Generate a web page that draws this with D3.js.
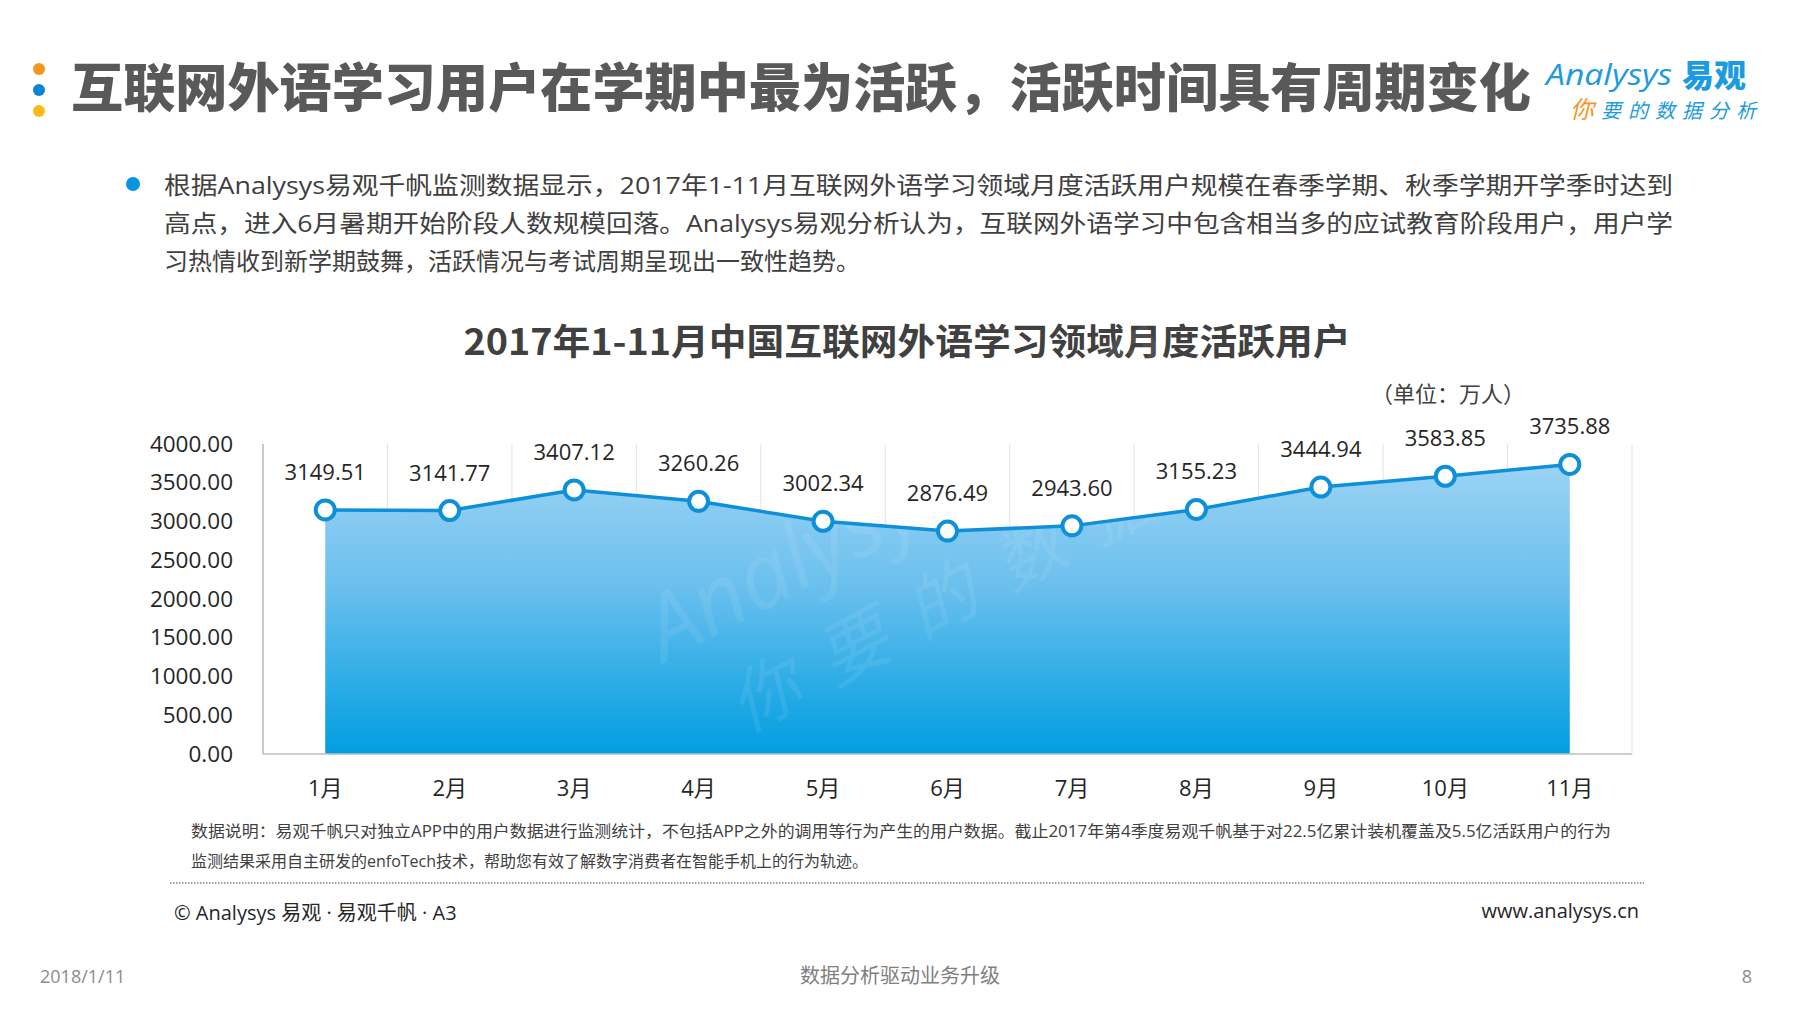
<!DOCTYPE html>
<html>
<head>
<meta charset="utf-8">
<script src="https://cdn.jsdelivr.net/npm/d3@7"></script>
<style>
html,body{margin:0;padding:0;background:#fff;}
svg{display:block;}
text{font-family:"Open Sans","Noto Sans CJK SC",sans-serif;}
</style>
</head>
<body>
<svg id="chart" width="1800" height="1013"></svg>
<script>
// ---- data ----
const months = ["1月","2月","3月","4月","5月","6月","7月","8月","9月","10月","11月"];
const activeUsers = [3149.51, 3141.77, 3407.12, 3260.26, 3002.34, 2876.49, 2943.60, 3155.23, 3444.94, 3583.85, 3735.88];
const yTicks = [0, 500, 1000, 1500, 2000, 2500, 3000, 3500, 4000];

const pageTitle = "互联网外语学习用户在学期中最为活跃，活跃时间具有周期变化";
const chartTitle = "2017年1-11月中国互联网外语学习领域月度活跃用户";
const unitLabel = "（单位：万人）";
const summaryLines = [
  "根据Analysys易观千帆监测数据显示，2017年1-11月互联网外语学习领域月度活跃用户规模在春季学期、秋季学期开学季时达到",
  "高点，进入6月暑期开始阶段人数规模回落。Analysys易观分析认为，互联网外语学习中包含相当多的应试教育阶段用户，用户学",
  "习热情收到新学期鼓舞，活跃情况与考试周期呈现出一致性趋势。"
];
const noteLines = [
  "数据说明：易观千帆只对独立APP中的用户数据进行监测统计，不包括APP之外的调用等行为产生的用户数据。截止2017年第4季度易观千帆基于对22.5亿累计装机覆盖及5.5亿活跃用户的行为",
  "监测结果采用自主研发的enfoTech技术，帮助您有效了解数字消费者在智能手机上的行为轨迹。"
];
const sourceText = "© Analysys 易观 · 易观千帆 · A3";
const siteText = "www.analysys.cn";
const footerDate = "2018/1/11";
const footerSlogan = "数据分析驱动业务升级";
const pageNumber = "8";

// ---- layout ----
const svg = d3.select("#chart");
const plot = {left: 263, right: 1632, top: 444, bottom: 754};

const x = d3.scaleBand().domain(months).range([plot.left, plot.right]).padding(0);
const y = d3.scaleLinear().domain([0, 4000]).range([plot.bottom, plot.top]);
const cx = d => x(d) + x.bandwidth() / 2;

// header dots
const dotColors = ["#f7941d", "#0a84d6", "#fbb91a"];
svg.selectAll("circle.hdot").data(dotColors).join("circle")
  .attr("cx", 39).attr("cy", (d, i) => 69 + i * 21).attr("r", 6).attr("fill", d => d);

// page title
svg.append("text").attr("x", 71).attr("y", 107)
  .attr("textLength", 1460).attr("lengthAdjust", "spacingAndGlyphs")
  .style("font-family", "'Noto Sans CJK SC',sans-serif")
  .style("font-weight", 900).style("font-size", "52px").attr("fill", "#595959")
  .text(pageTitle);

// logo
const logo = svg.append("g");
logo.append("text").attr("x", 1546).attr("y", 85)
  .style("font-family", "'Open Sans',sans-serif").style("font-style", "italic")
  .style("font-size", "29px").attr("fill", "#1d9be0").attr("textLength", 126)
  .attr("lengthAdjust", "spacingAndGlyphs")
  .text("Analysys");
logo.append("text").attr("x", 1682).attr("y", 87)
  .style("font-family", "'Noto Sans CJK SC',sans-serif").style("font-weight", 900)
  .style("font-size", "32px").attr("fill", "#1d9be0").text("易观");
const slogan = logo.append("text").attr("x", 1570).attr("y", 118)
  .style("font-family", "'Noto Sans CJK SC',sans-serif").style("font-style", "italic")
  .style("font-size", "20px").attr("fill", "#1d9be0").attr("textLength", 186);
slogan.append("tspan").attr("fill", "#f7941d").style("font-size", "24px").text("你");
slogan.append("tspan").text("要的数据分析");

// summary bullet + text
svg.append("circle").attr("cx", 133).attr("cy", 184).attr("r", 7).attr("fill", "#0a95df");
svg.selectAll("text.summary").data(summaryLines).join("text")
  .attr("class", "summary")
  .attr("x", 164).attr("y", (d, i) => 194 + i * 38)
  .attr("textLength", (d, i) => i < 2 ? 1509 : null)
  .attr("lengthAdjust", "spacingAndGlyphs")
  .style("font-size", "24px").attr("fill", "#404040")
  .text(d => d);

// chart title
svg.append("text").attr("x", 907).attr("y", 355).attr("text-anchor", "middle")
  .attr("textLength", 887).attr("lengthAdjust", "spacingAndGlyphs")
  .style("font-family", "'Noto Sans CJK SC',sans-serif")
  .style("font-weight", 700).style("font-size", "36px").attr("fill", "#404040")
  .text(chartTitle);

// unit
svg.append("text").attr("x", 1448).attr("y", 402).attr("text-anchor", "middle")
  .style("font-size", "22px").attr("fill", "#404040").text(unitLabel);

// gradient
const defs = svg.append("defs");
const grad = defs.append("linearGradient").attr("id", "areaGrad")
  .attr("gradientUnits", "userSpaceOnUse")
  .attr("x1", 0).attr("x2", 0).attr("y1", y(4000)).attr("y2", y(0));
grad.append("stop").attr("offset", "0%").attr("stop-color", "#a3d6f5");
grad.append("stop").attr("offset", "45%").attr("stop-color", "#6cc0ee");
grad.append("stop").attr("offset", "100%").attr("stop-color", "#009ee0");

// vertical grid lines at band boundaries
const bounds = months.map(m => x(m)).concat([plot.right]);
svg.selectAll("line.vgrid").data(bounds.slice(1)).join("line")
  .attr("x1", d => d).attr("x2", d => d)
  .attr("y1", plot.top).attr("y2", plot.bottom)
  .attr("stroke", "#e3e3e3").attr("stroke-width", 1);

// area
const area = d3.area().x((d, i) => cx(months[i])).y0(y(0)).y1(d => y(d));
svg.append("path").datum(activeUsers).attr("d", area).attr("fill", "url(#areaGrad)");

// watermark
const wm = svg.append("g").attr("transform", "translate(880,560) rotate(-28)").attr("opacity", 0.08);
wm.append("text").attr("x", -70).attr("y", -10).attr("text-anchor", "middle")
  .style("font-family", "'Open Sans',sans-serif").style("font-style", "italic")
  .style("font-size", "90px").attr("fill", "#ffffff").text("Analysys");
wm.append("text").attr("x", 170).attr("y", -10)
  .style("font-family", "'Noto Sans CJK SC',sans-serif").style("font-weight", 900)
  .style("font-size", "90px").attr("fill", "#ffffff").text("易观");
wm.append("text").attr("x", -200).attr("y", 90)
  .style("font-family", "'Noto Sans CJK SC',sans-serif").style("font-style", "italic")
  .style("font-size", "70px").attr("fill", "#ffffff").attr("letter-spacing", "30px").text("你要的数据分析");

// axes lines
svg.append("line").attr("x1", plot.left).attr("x2", plot.left)
  .attr("y1", plot.top).attr("y2", plot.bottom).attr("stroke", "#a6a6a6").attr("stroke-width", 1.2);
svg.append("line").attr("x1", plot.left).attr("x2", plot.right)
  .attr("y1", plot.bottom).attr("y2", plot.bottom).attr("stroke", "#bfbfbf").attr("stroke-width", 1.5);

// y axis labels
const yAxis = d3.axisLeft(y).tickValues(yTicks).tickFormat(d3.format(".2f")).tickSize(0).tickPadding(30);
const yg = svg.append("g").attr("transform", `translate(${plot.left},0)`).call(yAxis);
yg.select(".domain").remove();
yg.selectAll("text").style("font-size", "22.5px").attr("fill", "#262626")
  .style("font-family", "'Open Sans',sans-serif");

// x axis labels
const xAxis = d3.axisBottom(x).tickSize(0).tickPadding(26);
const xg = svg.append("g").attr("transform", `translate(0,${plot.bottom})`).call(xAxis);
xg.select(".domain").remove();
xg.selectAll("text").style("font-size", "22px").attr("fill", "#262626")
  .style("font-family", "'Open Sans','Noto Sans CJK SC',sans-serif");

// line
const line = d3.line().x((d, i) => cx(months[i])).y(d => y(d));
svg.append("path").datum(activeUsers).attr("d", line)
  .attr("fill", "none").attr("stroke", "#0d8fd9").attr("stroke-width", 3.5);

// points
svg.selectAll("circle.pt").data(activeUsers).join("circle")
  .attr("class", "pt")
  .attr("cx", (d, i) => cx(months[i])).attr("cy", d => y(d)).attr("r", 9.5)
  .attr("fill", "#fff").attr("stroke", "#0d8fd9").attr("stroke-width", 4);

// data labels
svg.selectAll("text.dl").data(activeUsers).join("text")
  .attr("class", "dl")
  .attr("x", (d, i) => cx(months[i])).attr("y", d => y(d) - 30)
  .attr("text-anchor", "middle")
  .style("font-size", "22px").attr("fill", "#262626")
  .style("font-family", "'Open Sans',sans-serif")
  .text(d => d3.format(".2f")(d));

// notes
svg.selectAll("text.note").data(noteLines).join("text")
  .attr("class", "note")
  .attr("x", 191).attr("y", (d, i) => 837 + i * 30)
  .attr("textLength", (d, i) => i === 0 ? 1420 : null)
  .attr("lengthAdjust", "spacingAndGlyphs")
  .style("font-size", "16px").attr("fill", "#404040")
  .text(d => d);

// dotted separator
svg.append("line").attr("x1", 170).attr("x2", 1644).attr("y1", 883).attr("y2", 883)
  .attr("stroke", "#7f7f7f").attr("stroke-width", 1.5).attr("stroke-dasharray", "1.5,1.5");

// source / site
svg.append("text").attr("x", 174).attr("y", 920)
  .style("font-size", "20px").attr("fill", "#262626").text(sourceText);
svg.append("text").attr("x", 1639).attr("y", 918).attr("text-anchor", "end")
  .style("font-size", "20px").attr("fill", "#262626").text(siteText);

// footer
svg.append("text").attr("x", 40).attr("y", 983)
  .style("font-size", "18px").attr("fill", "#8c8c8c").text(footerDate);
svg.append("text").attr("x", 900).attr("y", 983).attr("text-anchor", "middle")
  .style("font-size", "20px").attr("fill", "#7f7f7f").text(footerSlogan);
svg.append("text").attr("x", 1752).attr("y", 983).attr("text-anchor", "end")
  .style("font-size", "18px").attr("fill", "#8c8c8c").text(pageNumber);
</script>
</body>
</html>
